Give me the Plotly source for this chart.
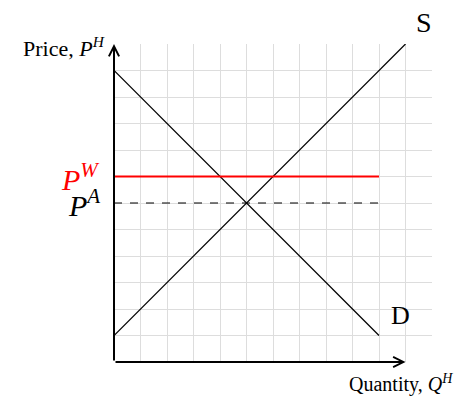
import plotly.graph_objects as go

# Data
demand_q = [0, 10]
demand_p = [11, 1]
supply_q = [0, 11]
supply_p = [1, 12]
world_price = 7
autarky_price = 6
price_line_q = [0, 10]
axis_max_q = 11
axis_max_p = 12
grid_max = 12

SERIF = "Liberation Serif, Times New Roman, serif"

def px(q):
    return q / grid_max

def py(p):
    return p / grid_max

fig = go.Figure()

fig.add_trace(go.Scatter(x=demand_q, y=demand_p, mode="lines",
                         line=dict(color="black", width=1.2), hoverinfo="skip"))
fig.add_trace(go.Scatter(x=supply_q, y=supply_p, mode="lines",
                         line=dict(color="black", width=1.2), hoverinfo="skip"))
fig.add_trace(go.Scatter(x=price_line_q, y=[world_price, world_price], mode="lines",
                         line=dict(color="red", width=2), hoverinfo="skip"))
fig.add_trace(go.Scatter(x=price_line_q, y=[autarky_price, autarky_price], mode="lines",
                         line=dict(color="black", width=1.2, dash="8px,8px"), hoverinfo="skip"))

ann = []
# axis arrows
ann.append(dict(x=axis_max_q, y=0, ax=0, ay=0, xref="x", yref="y", axref="x", ayref="y",
                showarrow=True, arrowhead=5, arrowsize=1, arrowwidth=2, arrowcolor="black",
                standoff=0, startstandoff=0, text=""))
ann.append(dict(x=0, y=axis_max_p, ax=0, ay=0, xref="x", yref="y", axref="x", ayref="y",
                showarrow=True, arrowhead=5, arrowsize=1, arrowwidth=2, arrowcolor="black",
                standoff=0, startstandoff=0, text=""))
# labels (paper coordinates derived from data units)
ann.append(dict(x=px(-0.25), y=py(axis_max_p - 0.12), xref="paper", yref="paper",
                xanchor="right", yanchor="middle",
                text="Price, <i>P</i><sup><i>H</i></sup>", showarrow=False,
                font=dict(family=SERIF, size=22, color="black")))
ann.append(dict(x=px(12.85), y=py(-0.8), xref="paper", yref="paper", xanchor="right", yanchor="middle",
                text="Quantity, <i>Q</i><sup><i>H</i></sup>", showarrow=False,
                font=dict(family=SERIF, size=20, color="black")))
ann.append(dict(x=px(11.7), y=py(12.8), xref="paper", yref="paper", xanchor="center", yanchor="middle",
                text="S", showarrow=False, font=dict(family=SERIF, size=28, color="black")))
ann.append(dict(x=px(10.83), y=py(1.76), xref="paper", yref="paper", xanchor="center", yanchor="middle",
                text="D", showarrow=False, font=dict(family=SERIF, size=26, color="black")))
ann.append(dict(x=px(-0.45), y=py(world_price), xref="paper", yref="paper", xanchor="right", yanchor="middle",
                text="<i>P</i><sup><i>W</i></sup>", showarrow=False,
                font=dict(family=SERIF, size=30, color="red")))
ann.append(dict(x=px(-0.45), y=py(autarky_price), xref="paper", yref="paper", xanchor="right", yanchor="middle",
                text="<i>P</i><sup><i>A</i></sup>", showarrow=False,
                font=dict(family=SERIF, size=30, color="black")))

fig.update_layout(
    width=455, height=388,
    margin=dict(l=106, r=31, t=36, b=34),
    paper_bgcolor="white", plot_bgcolor="white",
    showlegend=False,
    annotations=ann,
    xaxis=dict(range=[0, grid_max], dtick=1, tick0=0, showgrid=True, gridcolor="#dddddd",
               gridwidth=1, zeroline=False, showline=False, showticklabels=False, ticks="",
               fixedrange=True),
    yaxis=dict(range=[0, grid_max], dtick=1, tick0=0, showgrid=True, gridcolor="#dddddd",
               gridwidth=1, zeroline=False, showline=False, showticklabels=False, ticks="",
               fixedrange=True),
)

fig.write_html("out.html")
